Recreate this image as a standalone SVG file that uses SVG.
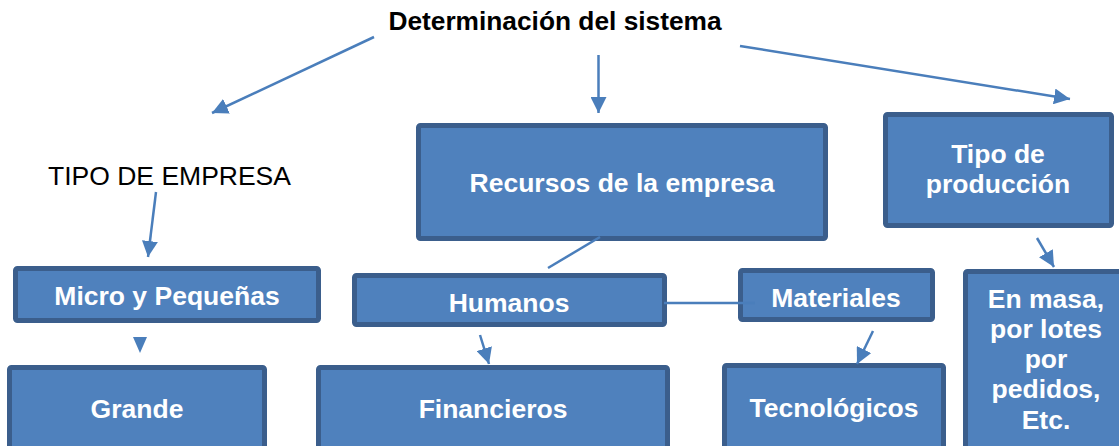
<svg xmlns="http://www.w3.org/2000/svg" width="1119" height="446" viewBox="0 0 1119 446">
<style>
.box{fill:#4f81bd;stroke:#3b5e8c;stroke-width:5}
.lbl{font-family:"Liberation Sans",Arial,sans-serif;font-weight:bold;font-size:26.5px;fill:#ffffff;text-anchor:middle}
.ttl{font-family:"Liberation Sans",Arial,sans-serif;font-weight:bold;font-size:26.3px;fill:#000000;text-anchor:middle}
.plain{font-family:"Liberation Sans",Arial,sans-serif;font-size:26.5px;fill:#000000}
.conn{stroke:#4a7ebb;stroke-width:2.5;fill:none}
.arr{marker-end:url(#ah)}
</style>
<defs>
<marker id="ah" markerUnits="userSpaceOnUse" markerWidth="18" markerHeight="16" viewBox="0 0 18 16" refX="16" refY="8" orient="auto">
<path d="M0,0 L16,8 L0,16 Z" fill="#4a7ebb"/>
</marker>
</defs>
<rect width="1119" height="446" fill="#ffffff"/>
<g id="title">
<text class="ttl" x="555" y="30">Determinación del sistema</text>
</g>
<g id="tipo-empresa">
<text class="plain" x="48" y="185">TIPO DE EMPRESA</text>
</g>
<g id="recursos">
<rect class="box" x="418.5" y="125.5" width="407" height="113" rx="2"/>
<text class="lbl" x="622" y="192">Recursos de la empresa</text>
</g>
<g id="tipo-produccion">
<rect class="box" x="885.5" y="114.5" width="226" height="111" rx="2"/>
<text class="lbl" x="998" y="163">Tipo de</text>
<text class="lbl" x="998" y="193">producción</text>
</g>
<g id="micro">
<rect class="box" x="15.5" y="268.5" width="303" height="52" rx="2"/>
<text class="lbl" x="167" y="305">Micro y Pequeñas</text>
</g>
<g id="humanos">
<rect class="box" x="354.5" y="275.5" width="310" height="49" rx="2"/>
<text class="lbl" x="509" y="312">Humanos</text>
</g>
<g id="materiales">
<rect class="box" x="740.5" y="270.5" width="192" height="49" rx="2"/>
<text class="lbl" x="836" y="307">Materiales</text>
</g>
<g id="grande">
<rect class="box" x="9.5" y="367.5" width="255" height="95" rx="2"/>
<text class="lbl" x="137" y="418">Grande</text>
</g>
<g id="financieros">
<rect class="box" x="318.5" y="367.5" width="349" height="95" rx="2"/>
<text class="lbl" x="493" y="418">Financieros</text>
</g>
<g id="tecnologicos">
<rect class="box" x="724.5" y="365.5" width="219" height="95" rx="2"/>
<text class="lbl" x="834" y="417">Tecnológicos</text>
</g>
<g id="en-masa">
<rect class="box" x="965.5" y="271.5" width="175" height="200" rx="2"/>
<text class="lbl" x="1046" y="308">En masa,</text>
<text class="lbl" x="1046" y="338">por lotes</text>
<text class="lbl" x="1046" y="368">por</text>
<text class="lbl" x="1046" y="398">pedidos,</text>
<text class="lbl" x="1046" y="429">Etc.</text>
</g>
<g id="connectors">
<line class="conn arr" x1="374" y1="37" x2="212" y2="113"/>
<line class="conn arr" x1="598.5" y1="55" x2="598.5" y2="113"/>
<line class="conn arr" x1="740" y1="46" x2="1070" y2="99"/>
<line class="conn arr" x1="156" y1="192" x2="148" y2="257"/>
<path d="M133,337 L147,337 L140,353 Z" fill="#4a7ebb"/>
<line class="conn" x1="600" y1="237" x2="548" y2="268"/>
<line class="conn" x1="664" y1="303" x2="755" y2="303"/>
<line class="conn arr" x1="480" y1="335" x2="489" y2="364"/>
<line class="conn arr" x1="873" y1="331" x2="857" y2="364"/>
<line class="conn arr" x1="1037" y1="238" x2="1054" y2="267"/>
</g>
</svg>
